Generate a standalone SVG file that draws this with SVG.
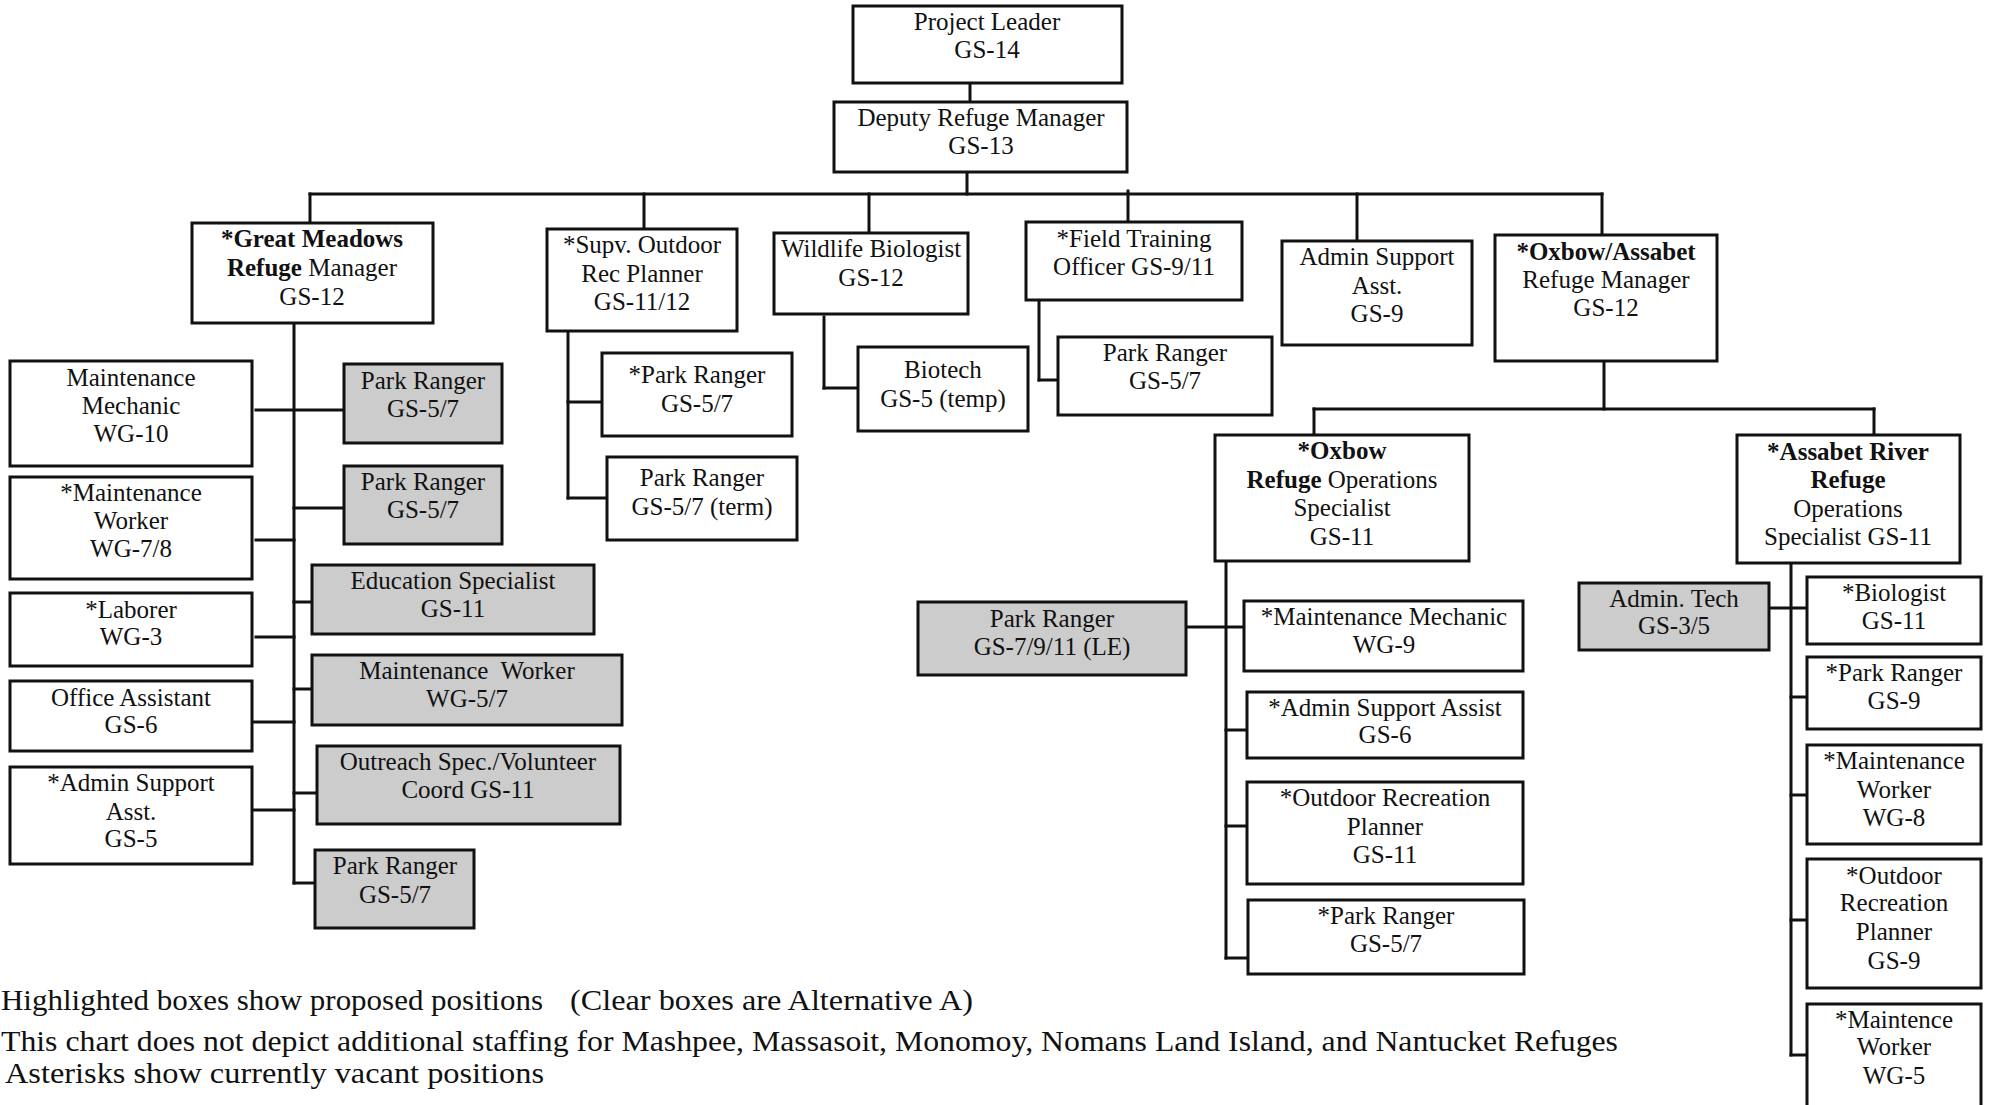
<svg xmlns="http://www.w3.org/2000/svg" width="1990" height="1105" viewBox="0 0 1990 1105">
<style>
.bx{fill:#ffffff;stroke:#111111;stroke-width:3}
.gy{fill:#cccccc;stroke:#111111;stroke-width:3}
text{font-family:"Liberation Serif","Times New Roman",serif;font-size:25px;fill:#111111;text-anchor:middle}
.b{font-weight:bold}
.note{font-size:30px;text-anchor:start}
#connectors line{stroke:#111111;stroke-width:3;stroke-linecap:square}
</style>
<rect width="1990" height="1105" fill="#ffffff"/>
<g id="connectors">
<line x1="970" y1="84" x2="970" y2="102"/>
<line x1="967" y1="172" x2="967" y2="194"/>
<line x1="310" y1="194" x2="1602" y2="194"/>
<line x1="310" y1="194" x2="310" y2="222"/>
<line x1="644" y1="194" x2="644" y2="228"/>
<line x1="869" y1="194" x2="869" y2="232"/>
<line x1="1128" y1="191" x2="1128" y2="221"/>
<line x1="1357" y1="194" x2="1357" y2="240"/>
<line x1="1602" y1="194" x2="1602" y2="234"/>
<line x1="294" y1="323" x2="294" y2="883"/>
<line x1="256" y1="410" x2="344" y2="410"/>
<line x1="294" y1="508" x2="344" y2="508"/>
<line x1="256" y1="540" x2="294" y2="540"/>
<line x1="294" y1="602" x2="312" y2="602"/>
<line x1="256" y1="637" x2="294" y2="637"/>
<line x1="294" y1="689" x2="312" y2="689"/>
<line x1="252" y1="722" x2="294" y2="722"/>
<line x1="294" y1="793" x2="317" y2="793"/>
<line x1="252" y1="810" x2="294" y2="810"/>
<line x1="294" y1="883" x2="315" y2="883"/>
<line x1="568" y1="331" x2="568" y2="498"/>
<line x1="568" y1="402" x2="602" y2="402"/>
<line x1="568" y1="498" x2="607" y2="498"/>
<line x1="824" y1="317" x2="824" y2="388"/>
<line x1="824" y1="388" x2="858" y2="388"/>
<line x1="1039" y1="300" x2="1039" y2="380"/>
<line x1="1039" y1="380" x2="1058" y2="380"/>
<line x1="1604" y1="361" x2="1604" y2="409"/>
<line x1="1314" y1="409" x2="1874" y2="409"/>
<line x1="1314" y1="409" x2="1314" y2="434"/>
<line x1="1874" y1="409" x2="1874" y2="434"/>
<line x1="1226" y1="557" x2="1226" y2="958"/>
<line x1="1186" y1="627" x2="1244" y2="627"/>
<line x1="1226" y1="730" x2="1247" y2="730"/>
<line x1="1226" y1="826" x2="1247" y2="826"/>
<line x1="1226" y1="958" x2="1248" y2="958"/>
<line x1="1791" y1="562" x2="1791" y2="1055"/>
<line x1="1769" y1="608" x2="1807" y2="608"/>
<line x1="1791" y1="697" x2="1807" y2="697"/>
<line x1="1791" y1="795" x2="1807" y2="795"/>
<line x1="1791" y1="920" x2="1807" y2="920"/>
<line x1="1791" y1="1055" x2="1807" y2="1055"/>
</g>

<g id="project-leader"><rect class="bx" x="853" y="6" width="269" height="77"/><text x="987" y="30">Project Leader</text><text x="987" y="58">GS-14</text></g>
<g id="deputy"><rect class="bx" x="834" y="102" width="293" height="70"/><text x="981" y="126">Deputy Refuge Manager</text><text x="981" y="154">GS-13</text></g>

<g id="great-meadows"><rect class="bx" x="192" y="223" width="241" height="100"/><text x="312" y="247" class="b">*Great Meadows</text><text x="312" y="276"><tspan class="b">Refuge</tspan> Manager</text><text x="312" y="305">GS-12</text></g>
<g id="supv-outdoor"><rect class="bx" x="547" y="229" width="190" height="102"/><text x="642" y="253">*Supv. Outdoor</text><text x="642" y="282">Rec Planner</text><text x="642" y="310">GS-11/12</text></g>
<g id="wildlife-biologist"><rect class="bx" x="774" y="233" width="194" height="81"/><text x="871" y="257">Wildlife Biologist</text><text x="871" y="286">GS-12</text></g>
<g id="field-training"><rect class="bx" x="1026" y="222" width="216" height="78"/><text x="1134" y="247">*Field Training</text><text x="1134" y="275">Officer GS-9/11</text></g>
<g id="admin-support-9"><rect class="bx" x="1282" y="241" width="190" height="104"/><text x="1377" y="265">Admin Support</text><text x="1377" y="294">Asst.</text><text x="1377" y="322">GS-9</text></g>
<g id="oxbow-assabet"><rect class="bx" x="1495" y="235" width="222" height="126"/><text x="1606" y="260" class="b">*Oxbow/Assabet</text><text x="1606" y="288">Refuge Manager</text><text x="1606" y="316">GS-12</text></g>

<g id="gm-maint-mechanic"><rect class="bx" x="10" y="361" width="242" height="105"/><text x="131" y="386">Maintenance</text><text x="131" y="414">Mechanic</text><text x="131" y="442">WG-10</text></g>
<g id="gm-maint-worker"><rect class="bx" x="10" y="477" width="242" height="102"/><text x="131" y="501">*Maintenance</text><text x="131" y="529">Worker</text><text x="131" y="557">WG-7/8</text></g>
<g id="gm-laborer"><rect class="bx" x="10" y="593" width="242" height="73"/><text x="131" y="618">*Laborer</text><text x="131" y="645">WG-3</text></g>
<g id="gm-office-assistant"><rect class="bx" x="10" y="681" width="242" height="70"/><text x="131" y="706">Office Assistant</text><text x="131" y="733">GS-6</text></g>
<g id="gm-admin-support"><rect class="bx" x="10" y="767" width="242" height="97"/><text x="131" y="791">*Admin Support</text><text x="131" y="820">Asst.</text><text x="131" y="847">GS-5</text></g>
<g id="gm-park-ranger-1"><rect class="gy" x="344" y="364" width="158" height="79"/><text x="423" y="389">Park Ranger</text><text x="423" y="417">GS-5/7</text></g>
<g id="gm-park-ranger-2"><rect class="gy" x="344" y="466" width="158" height="78"/><text x="423" y="490">Park Ranger</text><text x="423" y="518">GS-5/7</text></g>
<g id="gm-education"><rect class="gy" x="312" y="565" width="282" height="69"/><text x="453" y="589">Education Specialist</text><text x="453" y="617">GS-11</text></g>
<g id="gm-maint-worker-57"><rect class="gy" x="312" y="655" width="310" height="70"/><text x="467" y="679" xml:space="preserve">Maintenance  Worker</text><text x="467" y="707">WG-5/7</text></g>
<g id="gm-outreach"><rect class="gy" x="317" y="746" width="303" height="78"/><text x="468" y="770">Outreach Spec./Volunteer</text><text x="468" y="798">Coord GS-11</text></g>
<g id="gm-park-ranger-3"><rect class="gy" x="315" y="850" width="159" height="78"/><text x="395" y="874">Park Ranger</text><text x="395" y="903">GS-5/7</text></g>

<g id="so-park-ranger"><rect class="bx" x="602" y="353" width="190" height="83"/><text x="697" y="383">*Park Ranger</text><text x="697" y="412">GS-5/7</text></g>
<g id="so-park-ranger-term"><rect class="bx" x="607" y="457" width="190" height="83"/><text x="702" y="486">Park Ranger</text><text x="702" y="515">GS-5/7 (term)</text></g>
<g id="biotech"><rect class="bx" x="858" y="347" width="170" height="84"/><text x="943" y="378">Biotech</text><text x="943" y="407">GS-5 (temp)</text></g>
<g id="fto-park-ranger"><rect class="bx" x="1058" y="337" width="214" height="78"/><text x="1165" y="361">Park Ranger</text><text x="1165" y="389">GS-5/7</text></g>

<g id="oxbow-ops"><rect class="bx" x="1215" y="435" width="254" height="126"/><text x="1342" y="459" class="b">*Oxbow</text><text x="1342" y="488"><tspan class="b">Refuge</tspan> Operations</text><text x="1342" y="516">Specialist</text><text x="1342" y="545">GS-11</text></g>
<g id="assabet-ops"><rect class="bx" x="1737" y="435" width="223" height="128"/><text x="1848" y="460" class="b">*Assabet River</text><text x="1848" y="488" class="b">Refuge</text><text x="1848" y="517">Operations</text><text x="1848" y="545">Specialist GS-11</text></g>

<g id="ox-park-ranger-le"><rect class="gy" x="918" y="602" width="268" height="73"/><text x="1052" y="627">Park Ranger</text><text x="1052" y="655">GS-7/9/11 (LE)</text></g>
<g id="ox-maint-mechanic"><rect class="bx" x="1244" y="601" width="279" height="70"/><text x="1384" y="625">*Maintenance Mechanic</text><text x="1384" y="653">WG-9</text></g>
<g id="ox-admin-support"><rect class="bx" x="1247" y="692" width="276" height="66"/><text x="1385" y="716">*Admin Support Assist</text><text x="1385" y="743">GS-6</text></g>
<g id="ox-outdoor-rec"><rect class="bx" x="1247" y="782" width="276" height="102"/><text x="1385" y="806">*Outdoor Recreation</text><text x="1385" y="835">Planner</text><text x="1385" y="863">GS-11</text></g>
<g id="ox-park-ranger"><rect class="bx" x="1248" y="900" width="276" height="74"/><text x="1386" y="924">*Park Ranger</text><text x="1386" y="952">GS-5/7</text></g>

<g id="as-admin-tech"><rect class="gy" x="1579" y="583" width="190" height="67"/><text x="1674" y="607">Admin. Tech</text><text x="1674" y="634">GS-3/5</text></g>
<g id="as-biologist"><rect class="bx" x="1807" y="577" width="174" height="67"/><text x="1894" y="601">*Biologist</text><text x="1894" y="629">GS-11</text></g>
<g id="as-park-ranger"><rect class="bx" x="1807" y="657" width="174" height="72"/><text x="1894" y="681">*Park Ranger</text><text x="1894" y="709">GS-9</text></g>
<g id="as-maint-worker"><rect class="bx" x="1807" y="745" width="174" height="99"/><text x="1894" y="769">*Maintenance</text><text x="1894" y="798">Worker</text><text x="1894" y="826">WG-8</text></g>
<g id="as-outdoor-rec"><rect class="bx" x="1807" y="859" width="174" height="129"/><text x="1894" y="884">*Outdoor</text><text x="1894" y="911">Recreation</text><text x="1894" y="940">Planner</text><text x="1894" y="969">GS-9</text></g>
<g id="as-maintence-worker"><rect class="bx" x="1807" y="1004" width="174" height="110"/><text x="1894" y="1028">*Maintence</text><text x="1894" y="1055">Worker</text><text x="1894" y="1084">WG-5</text></g>

<g id="notes">
<text class="note" x="1" y="1010" textLength="542" lengthAdjust="spacingAndGlyphs">Highlighted boxes show proposed positions</text>
<text class="note" x="570" y="1010" textLength="403" lengthAdjust="spacingAndGlyphs">(Clear boxes are Alternative A)</text>
<text class="note" x="1" y="1051" textLength="1617" lengthAdjust="spacingAndGlyphs">This chart does not depict additional staffing for Mashpee, Massasoit, Monomoy, Nomans Land Island, and Nantucket Refuges</text>
<text class="note" x="5" y="1083" textLength="539" lengthAdjust="spacingAndGlyphs">Asterisks show currently vacant positions</text>
</g>
</svg>
